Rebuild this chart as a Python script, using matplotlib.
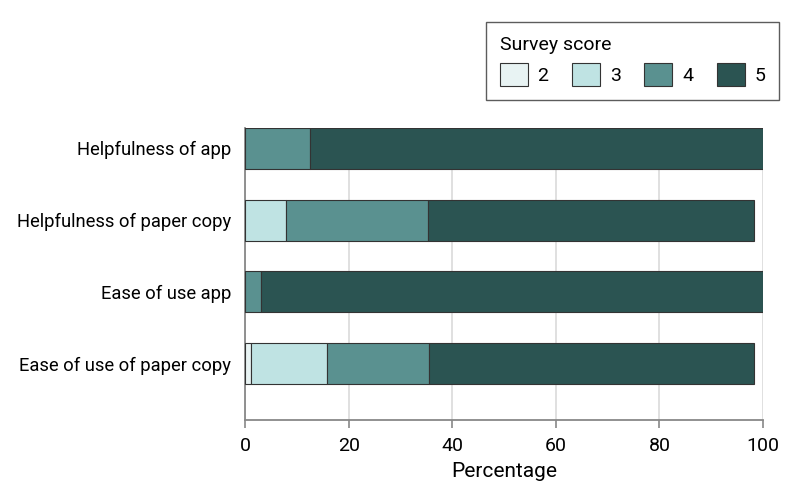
import matplotlib.pyplot as plt
import numpy as np
from matplotlib.patches import Patch

plt.rcParams["font.family"] = ["Roboto", "DejaVu Sans"]

categories = [
    "Helpfulness of app",
    "Helpfulness of paper copy",
    "Ease of use app",
    "Ease of use of paper copy",
]
scores = ["2", "3", "4", "5"]
# percentages per score, one list per score level, in category order
score_2 = [0.0, 0.0, 0.0, 1.1]
score_3 = [0.0, 8.0, 0.0, 14.7]
score_4 = [12.5, 27.3, 3.1, 19.7]
score_5 = [87.5, 62.9, 96.9, 62.8]
colors = ["#e8f3f3", "#bfe3e3", "#5a9190", "#2b5452"]

fig = plt.figure(figsize=(7.94, 5.0), dpi=100)
ax = fig.add_axes([0.3086, 0.16, 0.6524, 0.584])

y = np.arange(len(categories))
left = np.zeros(len(categories))
for vals, col, lab in zip([score_2, score_3, score_4, score_5], colors, scores):
    vals = np.array(vals)
    ax.barh(y, vals, left=left, height=0.57, color=col, edgecolor="#333333",
            linewidth=0.8, label=lab, zorder=3)
    left += vals

ax.set_xlim(0, 100)
ax.set_ylim(3.78, -0.28)
ax.set_yticks(y)
ax.set_yticklabels(categories, fontsize=13.2)
ax.set_xticks([0, 20, 40, 60, 80, 100])
ax.tick_params(axis="x", labelsize=14, color="#888888", length=6, width=1.2,
               pad=6)
ax.tick_params(axis="y", length=0, pad=10)
ax.grid(axis="x", color="#dddddd", linewidth=1.3, zorder=0)
ax.set_xlabel("Percentage", fontsize=15, labelpad=5)
for s in ["top", "right"]:
    ax.spines[s].set_visible(False)
for s in ["left", "bottom"]:
    ax.spines[s].set_color("#888888")
    ax.spines[s].set_linewidth(1.3)

handles = [Patch(facecolor=c, edgecolor="#333333", linewidth=0.8) for c in colors]
leg = fig.legend(handles, scores, loc="upper left",
                 bbox_to_anchor=(486 / 794, 1 - 105 / 500, 293 / 794, 83 / 500),
                 mode="expand", ncol=4,
                 title="Survey score", title_fontsize=14, fontsize=14,
                 frameon=True, fancybox=False, edgecolor="#333333",
                 handlelength=1.45, handleheight=1.45, columnspacing=1.2,
                 handletextpad=0.5, borderpad=0.7, borderaxespad=0)
leg._legend_box.align = "left"
leg.get_frame().set_linewidth(1.0)

fig.savefig("out.png", dpi=100)
